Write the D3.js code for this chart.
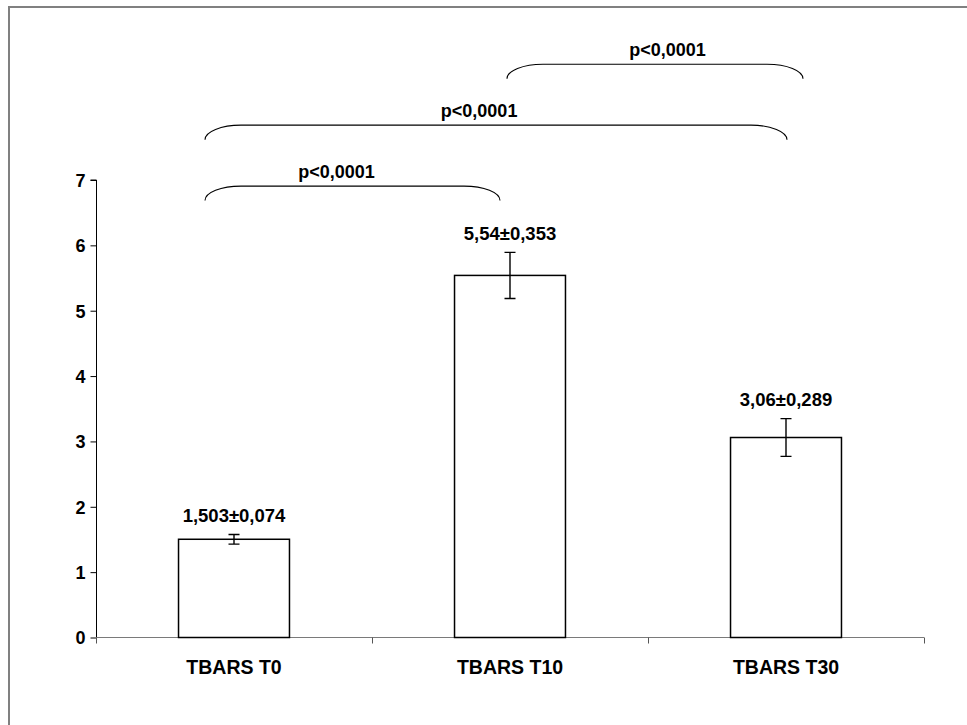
<!DOCTYPE html>
<html>
<head>
<meta charset="utf-8">
<script src="https://cdn.jsdelivr.net/npm/d3@7"></script>
<style>
  html, body { margin: 0; padding: 0; background: #fff; }
  svg { display: block; }
  text { font-family: "Liberation Sans", Arial, sans-serif; font-weight: bold; fill: #000; }
</style>
</head>
<body>
<svg id="chart" width="967" height="725"></svg>
<script>
// TBARS levels at three time points (mean ± SEM)
const categories = ["TBARS T0", "TBARS T10", "TBARS T30"];
const means      = [1.503, 5.54, 3.06];
const errors     = [0.074, 0.353, 0.289];
const valueLabels = ["1,503±0,074", "5,54±0,353", "3,06±0,289"];
const yTicks     = [0, 1, 2, 3, 4, 5, 6, 7];

// pairwise comparisons: from category, to category, label
const compFrom   = [0, 0, 1];
const compTo     = [1, 2, 2];
const compLabels = ["p<0,0001", "p<0,0001", "p<0,0001"];

const svg = d3.select("#chart");
const W = 967, H = 725;

// frame
svg.append("path")
  .attr("d", `M9,${H} V7 H${W}`)
  .attr("fill", "none")
  .attr("stroke", "#808080")
  .attr("stroke-width", 2);

const plot = { left: 96, right: 924, top: 180, bottom: 637.5 };

const x = d3.scaleBand().domain(categories).range([plot.left, plot.right]).padding(0);
const y = d3.scaleLinear().domain([0, 7]).range([plot.bottom, plot.top]);
const barW = x.bandwidth() * 0.402;

// y axis
const yAxis = d3.axisLeft(y).tickValues(yTicks).tickSize(6).tickPadding(5).tickFormat(d3.format("d"));
const gy = svg.append("g").attr("transform", `translate(${plot.left + 0.5},0)`).call(yAxis);
gy.select(".domain").attr("stroke", "#000").attr("d", `M-6,${y(7)}H0V${y(0)}`);
gy.selectAll(".tick line").attr("stroke", "#000");
gy.selectAll(".tick text").attr("font-size", 18).attr("font-family", null).attr("dy", "0.36em");

// x axis: line with ticks on category boundaries
const boundaries = categories.map(c => x(c)).concat([x.range()[1]]);
const gx = svg.append("g").attr("transform", `translate(0,${plot.bottom})`);
gx.append("line")
  .attr("x1", plot.left).attr("x2", plot.right)
  .attr("stroke", "#7a7a7a").attr("stroke-width", 1.2);
gx.selectAll("line.tk").data(boundaries).join("line")
  .attr("class", "tk")
  .attr("x1", d => Math.round(d) + 0.5).attr("x2", d => Math.round(d) + 0.5)
  .attr("y1", 0).attr("y2", 6)
  .attr("stroke", "#555");
gx.selectAll("text").data(categories).join("text")
  .attr("x", d => x(d) + x.bandwidth() / 2)
  .attr("y", 36)
  .attr("text-anchor", "middle")
  .attr("font-size", 19.5)
  .text(d => d);

// bars
svg.append("g").selectAll("rect").data(categories).join("rect")
  .attr("x", d => x(d) + (x.bandwidth() - barW) / 2)
  .attr("y", (d, i) => y(means[i]))
  .attr("width", barW)
  .attr("height", (d, i) => y(0) - y(means[i]))
  .attr("fill", "#fff")
  .attr("stroke", "#000")
  .attr("stroke-width", 1.5);

// error bars
const cap = 5.5;
const eb = svg.append("g").attr("stroke", "#000").attr("stroke-width", 1.4).attr("fill", "none");
categories.forEach((c, i) => {
  const cx = x(c) + x.bandwidth() / 2;
  const hi = y(means[i] + errors[i]), lo = y(means[i] - errors[i]);
  eb.append("path").attr("d", `M${cx},${hi}V${lo}M${cx - cap},${hi}H${cx + cap}M${cx - cap},${lo}H${cx + cap}`);
});

// value labels above error bars
svg.append("g").selectAll("text").data(valueLabels).join("text")
  .attr("x", (d, i) => x(categories[i]) + x.bandwidth() / 2)
  .attr("y", (d, i) => y(means[i] + errors[i]) - 12.5)
  .attr("text-anchor", "middle")
  .attr("font-size", 18.5)
  .text(d => d);

// comparison brackets
const bracketBase = 6.907;   // top of the lowest bracket, in data units
const bracketStep = 0.932;   // spacing between bracket levels
const bracketDrop = 14.5;    // px the ends hang below the bracket line
const endOffsets = [[-29, -10], [-29, 1], [-3, 17]];  // px from category centres
const labelFrac  = [0.446, 0.471, 0.542];             // label position along each bracket
const bg = svg.append("g");
compFrom.forEach((f, i) => {
  const x0 = x(categories[f]) + x.bandwidth() / 2 + endOffsets[i][0];
  const x1 = x(categories[compTo[i]]) + x.bandwidth() / 2 + endOffsets[i][1];
  const yt = y(bracketBase + i * bracketStep);
  const yb = yt + bracketDrop;
  const w = 36, h = yb - yt, k = 0.5523;
  const d = `M${x0},${yb}` +
    `C${x0},${yb - k * h} ${x0 + w - k * w},${yt} ${x0 + w},${yt}` +
    `H${x1 - w}` +
    `C${x1 - w + k * w},${yt} ${x1},${yb - k * h} ${x1},${yb}`;
  bg.append("path").attr("d", d).attr("fill", "none").attr("stroke", "#000").attr("stroke-width", 1.1);
  bg.append("text")
    .attr("x", x0 + (x1 - x0) * labelFrac[i])
    .attr("y", yt - 8)
    .attr("text-anchor", "middle")
    .attr("font-size", 18)
    .text(compLabels[i]);
});
</script>
</body>
</html>
